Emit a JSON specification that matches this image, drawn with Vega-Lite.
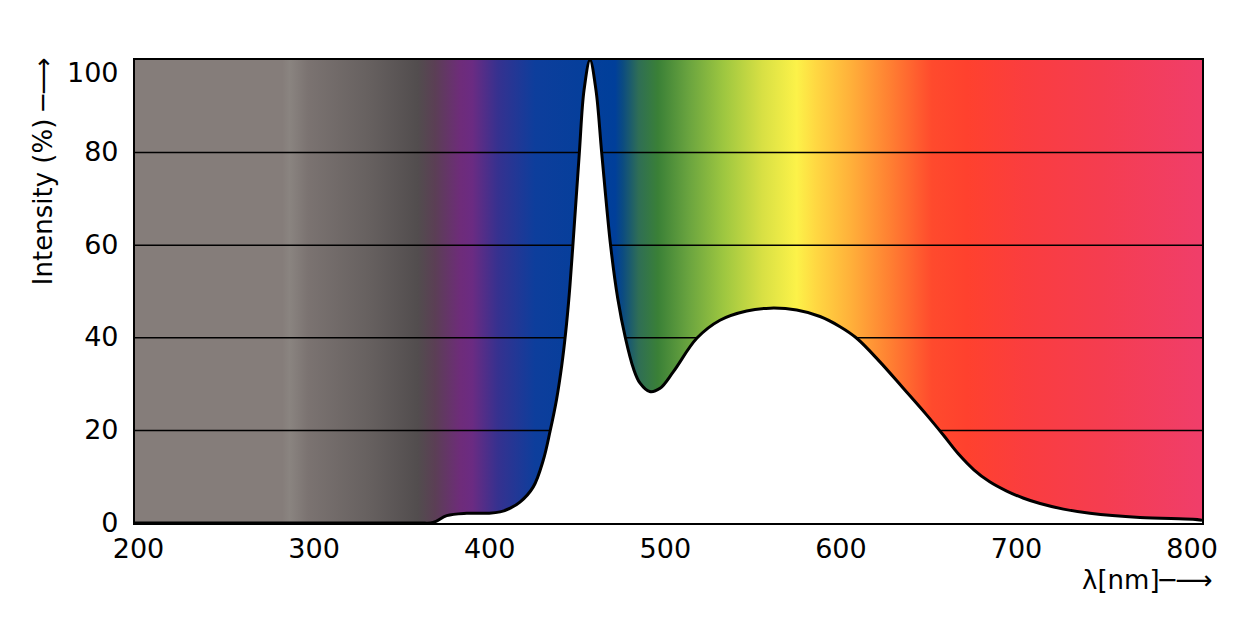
{
  "$schema": "https://vega.github.io/schema/vega-lite/v6.json",
  "autosize": "none",
  "width": 1067,
  "height": 463,
  "padding": {"left": 135, "top": 60, "right": 57, "bottom": 118},
  "background": "white",
  "config": {
    "font": "DejaVu Sans",
    "view": {"stroke": "black", "strokeWidth": 4},
    "axis": {"labelColor": "black", "titleColor": "black", "titleFontWeight": "normal"}
  },
  "datasets": {
    "spectrum": [
      {"wavelength": 198.3, "intensity": 0},
      {"wavelength": 300, "intensity": 0},
      {"wavelength": 360.0, "intensity": 0},
      {"wavelength": 368.0, "intensity": 0.1},
      {"wavelength": 375.8, "intensity": 1.6},
      {"wavelength": 387.2, "intensity": 2.1},
      {"wavelength": 400.0, "intensity": 2.1},
      {"wavelength": 406.2, "intensity": 2.4},
      {"wavelength": 412.0, "intensity": 3.2},
      {"wavelength": 417.5, "intensity": 4.5},
      {"wavelength": 425.1, "intensity": 7.8},
      {"wavelength": 430.8, "intensity": 13.6},
      {"wavelength": 434.6, "intensity": 19.7},
      {"wavelength": 438.4, "intensity": 26.8},
      {"wavelength": 441.3, "intensity": 34.0},
      {"wavelength": 443.5, "intensity": 41.0},
      {"wavelength": 445.6, "intensity": 49.5},
      {"wavelength": 447.6, "intensity": 59.7},
      {"wavelength": 451.3, "intensity": 79.8},
      {"wavelength": 454.0, "intensity": 93.5},
      {"wavelength": 457.4, "intensity": 100},
      {"wavelength": 460.8, "intensity": 93.5},
      {"wavelength": 464.1, "intensity": 79.8},
      {"wavelength": 469.2, "intensity": 59.7},
      {"wavelength": 473.2, "intensity": 48.5},
      {"wavelength": 477.6, "intensity": 39.9},
      {"wavelength": 482.1, "intensity": 33.4},
      {"wavelength": 485.9, "intensity": 30.2},
      {"wavelength": 491.4, "intensity": 28.4},
      {"wavelength": 497.3, "intensity": 29.1},
      {"wavelength": 504.9, "intensity": 32.7},
      {"wavelength": 518.2, "intensity": 39.9},
      {"wavelength": 531.4, "intensity": 43.8},
      {"wavelength": 546.6, "intensity": 45.8},
      {"wavelength": 560.0, "intensity": 46.4},
      {"wavelength": 575.1, "intensity": 46.0},
      {"wavelength": 588.4, "intensity": 44.6},
      {"wavelength": 599.8, "intensity": 42.4},
      {"wavelength": 609.3, "intensity": 39.9},
      {"wavelength": 622.5, "intensity": 34.8},
      {"wavelength": 635.8, "intensity": 29.1},
      {"wavelength": 649.2, "intensity": 23.3},
      {"wavelength": 658.6, "intensity": 19.0},
      {"wavelength": 667.0, "intensity": 15.0},
      {"wavelength": 676.0, "intensity": 11.5},
      {"wavelength": 685.0, "intensity": 8.9},
      {"wavelength": 694.7, "intensity": 6.9},
      {"wavelength": 704.0, "intensity": 5.4},
      {"wavelength": 713.7, "intensity": 4.2},
      {"wavelength": 727.0, "intensity": 3.0},
      {"wavelength": 742.1, "intensity": 2.1},
      {"wavelength": 770.6, "intensity": 1.2},
      {"wavelength": 800.8, "intensity": 0.8},
      {"wavelength": 805.9, "intensity": 0.6}
    ],
    "grid": [
      {"level": 20}, {"level": 40}, {"level": 60}, {"level": 80}
    ]
  },
  "layer": [
    {
      "data": {"values": [{}]},
      "mark": {
        "type": "rect",
        "fill": {
          "gradient": "linear",
          "x1": 0, "y1": 0, "x2": 1, "y2": 0,
          "stops": [
            {"offset": 0, "color": "#857d7a"},
            {"offset": 0.138, "color": "#857d7a"},
            {"offset": 0.145, "color": "#8a8480"},
            {"offset": 0.162, "color": "#7b7371"},
            {"offset": 0.218, "color": "#676160"},
            {"offset": 0.265, "color": "#524d4e"},
            {"offset": 0.281, "color": "#5b3f55"},
            {"offset": 0.305, "color": "#6e2c7a"},
            {"offset": 0.316, "color": "#6b2b82"},
            {"offset": 0.340, "color": "#36318f"},
            {"offset": 0.375, "color": "#0d3e9c"},
            {"offset": 0.450, "color": "#003f9a"},
            {"offset": 0.457, "color": "#0b4b82"},
            {"offset": 0.472, "color": "#2f6e55"},
            {"offset": 0.490, "color": "#3a8037"},
            {"offset": 0.519, "color": "#6aa43f"},
            {"offset": 0.552, "color": "#9ec740"},
            {"offset": 0.588, "color": "#d8e044"},
            {"offset": 0.620, "color": "#fcf249"},
            {"offset": 0.638, "color": "#ffd842"},
            {"offset": 0.671, "color": "#ffb03a"},
            {"offset": 0.708, "color": "#ff7f32"},
            {"offset": 0.747, "color": "#ff4a2d"},
            {"offset": 0.780, "color": "#ff412e"},
            {"offset": 0.834, "color": "#fa3d3f"},
            {"offset": 0.906, "color": "#f53d50"},
            {"offset": 1, "color": "#f03e6a"}
          ]
        }
      },
      "encoding": {
        "x": {"datum": 198.3, "type": "quantitative"},
        "x2": {"datum": 805.9},
        "y": {"datum": 0, "type": "quantitative"},
        "y2": {"datum": 100}
      }
    },
    {
      "data": {"name": "grid"},
      "mark": {"type": "rule", "color": "black", "strokeWidth": 1.5},
      "encoding": {
        "y": {"field": "level", "type": "quantitative"}
      }
    },
    {
      "data": {"name": "spectrum"},
      "mark": {"type": "area", "color": "white", "interpolate": "catmull-rom", "clip": true},
      "encoding": {
        "x": {"field": "wavelength", "type": "quantitative"},
        "y": {"field": "intensity", "type": "quantitative"}
      }
    },
    {
      "data": {"name": "spectrum"},
      "mark": {"type": "line", "color": "black", "strokeWidth": 3, "interpolate": "catmull-rom", "clip": true},
      "encoding": {
        "x": {
          "field": "wavelength",
          "type": "quantitative",
          "scale": {"domain": [198.3, 805.9], "nice": false, "zero": false},
          "axis": {
            "values": [200, 300, 400, 500, 600, 700, 800],
            "grid": false, "ticks": false, "domain": false,
            "labelFontSize": 27, "labelPadding": 13,
            "title": "λ[nm]─⟶",
            "titleFontSize": 26,
            "titleAnchor": "end", "titleAlign": "right", "titleBaseline": "middle",
            "titleX": 1077, "titleY": 57
          }
        },
        "y": {
          "field": "intensity",
          "type": "quantitative",
          "scale": {"domain": [0, 100], "nice": false},
          "axis": {
            "values": [0, 20, 40, 60, 80, 100],
            "grid": false, "ticks": false, "domain": false,
            "labelFontSize": 27, "labelPadding": 17,
            "labelBaseline": {"condition": {"test": "datum.value == 100", "value": "top"}, "value": "middle"},
            "title": "Intensity (%) ─⟶",
            "titleFontSize": 26,
            "titleAngle": 270, "titleAlign": "right", "titleBaseline": "middle",
            "titleX": -92, "titleY": -3
          }
        }
      }
    }
  ]
}
